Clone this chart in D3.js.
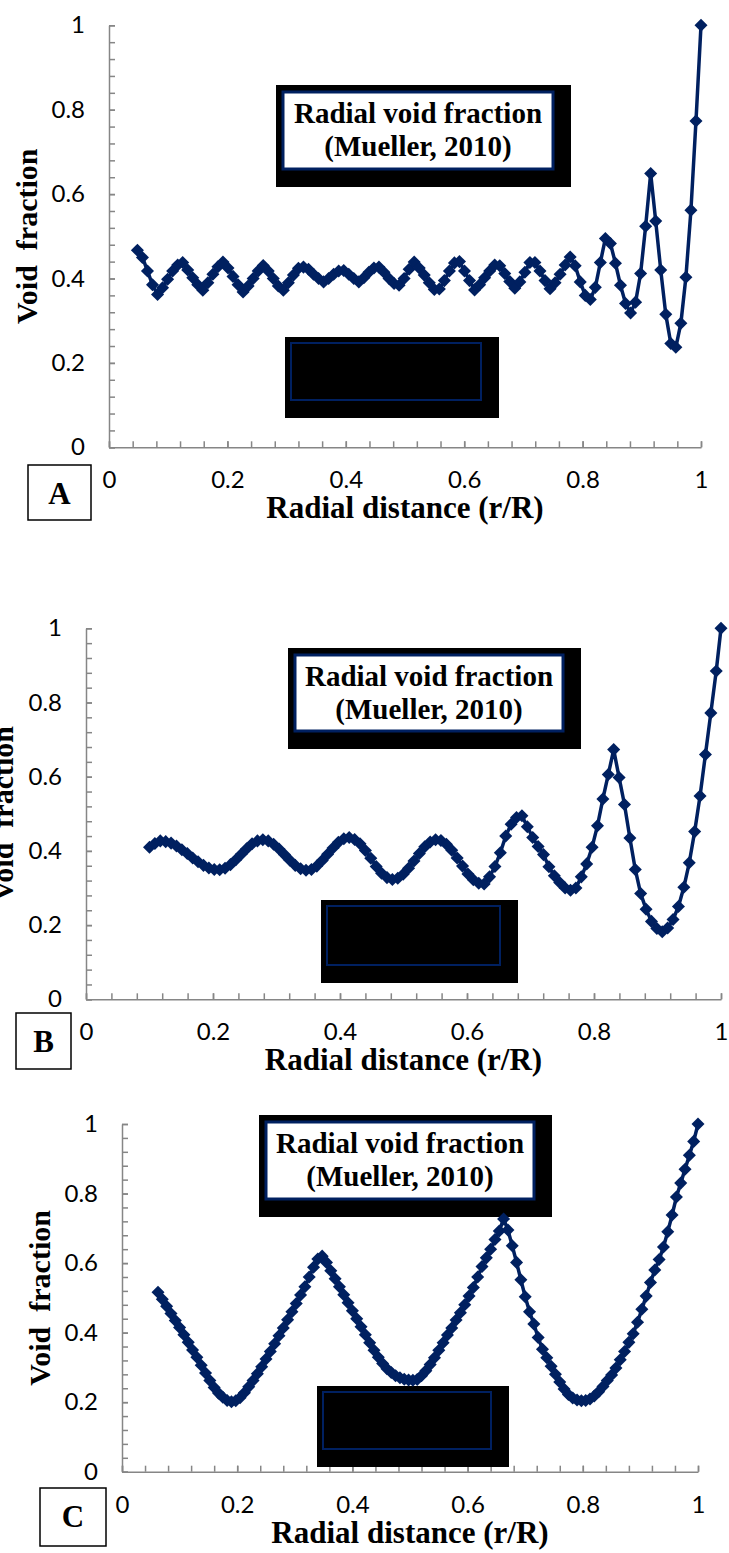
<!DOCTYPE html>
<html>
<head>
<meta charset="utf-8">
<script src="https://cdn.jsdelivr.net/npm/d3@7"></script>
<style>
  body { margin: 0; background: #fff; }
  svg { display: block; }
  .axis path, .axis line { stroke: #868686; stroke-width: 1.5; }
  .axis text { font-family: Lato, "Open Sans", sans-serif; font-size: 24px; fill: #000; }
  .serif { font-family: "Liberation Serif", "Times New Roman", serif; font-weight: bold; fill: #000; }
</style>
</head>
<body>
<svg width="729" height="1553"></svg>
<script>
// ---- data ----
var tickLabels = [0, 0.2, 0.4, 0.6, 0.8, 1];
var titleLines = ["Radial void fraction", "(Mueller, 2010)"];
var xTitle = "Radial distance (r/R)";
var yTitle = "Void  fraction";

// panel A
var xA = [0.048, 0.0565, 0.065, 0.0735, 0.082, 0.0905, 0.099, 0.1075, 0.116, 0.1245,
  0.133, 0.1415, 0.150, 0.1585, 0.167, 0.1755, 0.184, 0.1925, 0.201, 0.2095,
  0.218, 0.2265, 0.235, 0.2435, 0.252, 0.2605, 0.269, 0.2775, 0.286, 0.2945,
  0.303, 0.3115, 0.320, 0.3285, 0.337, 0.3455, 0.354, 0.3625, 0.371, 0.3795,
  0.388, 0.3965, 0.405, 0.4135, 0.422, 0.4305, 0.439, 0.4475, 0.456, 0.4645,
  0.473, 0.4815, 0.490, 0.4985, 0.507, 0.5155, 0.524, 0.5325, 0.541, 0.5495,
  0.558, 0.5665, 0.575, 0.5835, 0.592, 0.6005, 0.609, 0.6175, 0.626, 0.6345,
  0.643, 0.6515, 0.660, 0.6685, 0.677, 0.6855, 0.694, 0.7025, 0.711, 0.7195,
  0.728, 0.7365, 0.745, 0.7535, 0.762, 0.7705, 0.779, 0.7875, 0.796, 0.8045,
  0.813, 0.8215, 0.830, 0.8385, 0.847, 0.8555, 0.864, 0.8725, 0.881, 0.8895,
  0.898, 0.9065, 0.915, 0.9235, 0.932, 0.9405, 0.949, 0.9575, 0.966, 0.9745,
  0.983, 0.9915, 1.0];
var yA = [0.467, 0.450, 0.418, 0.385, 0.362, 0.378, 0.398, 0.418, 0.432, 0.438,
  0.420, 0.402, 0.385, 0.372, 0.390, 0.410, 0.428, 0.439, 0.425, 0.405,
  0.385, 0.368, 0.382, 0.400, 0.418, 0.431, 0.418, 0.400, 0.382, 0.372,
  0.390, 0.408, 0.424, 0.427, 0.422, 0.410, 0.400, 0.392, 0.400, 0.410,
  0.418, 0.419, 0.410, 0.400, 0.392, 0.402, 0.415, 0.425, 0.427, 0.415,
  0.400, 0.388, 0.384, 0.400, 0.422, 0.439, 0.425, 0.408, 0.390, 0.374,
  0.375, 0.395, 0.418, 0.437, 0.440, 0.418, 0.395, 0.373, 0.385, 0.402,
  0.418, 0.432, 0.430, 0.412, 0.393, 0.377, 0.392, 0.415, 0.438, 0.438,
  0.418, 0.395, 0.376, 0.390, 0.410, 0.432, 0.451, 0.430, 0.392, 0.360,
  0.350, 0.379, 0.438, 0.495, 0.483, 0.436, 0.384, 0.341, 0.318, 0.344,
  0.412, 0.524, 0.649, 0.536, 0.420, 0.315, 0.246, 0.237, 0.294, 0.403,
  0.562, 0.773, 1.0];

// panel B
var xB = [0.100, 0.1085, 0.117, 0.1255, 0.134, 0.1425, 0.151, 0.1595, 0.168, 0.1765,
  0.185, 0.1935, 0.202, 0.2105, 0.219, 0.2275, 0.236, 0.2445, 0.253, 0.2615,
  0.270, 0.2785, 0.287, 0.2955, 0.304, 0.3125, 0.321, 0.3295, 0.338, 0.3465,
  0.355, 0.3635, 0.372, 0.3805, 0.389, 0.3975, 0.406, 0.4145, 0.423, 0.4315,
  0.440, 0.4485, 0.457, 0.4655, 0.474, 0.4825, 0.491, 0.4995, 0.508, 0.5165,
  0.525, 0.5335, 0.542, 0.5505, 0.559, 0.5675, 0.576, 0.5845, 0.593, 0.6015,
  0.610, 0.6185, 0.627, 0.6355, 0.644, 0.6525, 0.661, 0.6695, 0.678, 0.6865,
  0.695, 0.7035, 0.712, 0.7205, 0.729, 0.7375, 0.746, 0.7545, 0.763, 0.7715,
  0.780, 0.7885, 0.797, 0.8055, 0.814, 0.8225, 0.831, 0.8395, 0.848, 0.8565,
  0.865, 0.8735, 0.882, 0.8905, 0.899, 0.9075, 0.916, 0.9245, 0.933, 0.9415,
  0.950, 0.9585, 0.967, 0.9755, 0.984, 0.9925, 1.0];
var yB = [0.410, 0.420, 0.427, 0.425, 0.421, 0.413, 0.403, 0.393, 0.381, 0.371,
  0.361, 0.354, 0.350, 0.349, 0.353, 0.363, 0.376, 0.391, 0.406, 0.419,
  0.427, 0.430, 0.427, 0.418, 0.405, 0.390, 0.375, 0.361, 0.352, 0.348,
  0.350, 0.359, 0.374, 0.391, 0.408, 0.423, 0.433, 0.436, 0.431, 0.419,
  0.401, 0.380, 0.358, 0.340, 0.328, 0.323, 0.326, 0.337, 0.353, 0.373,
  0.393, 0.411, 0.424, 0.430, 0.428, 0.418, 0.402, 0.381, 0.359, 0.338,
  0.322, 0.313, 0.311, 0.330, 0.358, 0.395, 0.440, 0.472, 0.490, 0.495,
  0.465, 0.436, 0.412, 0.390, 0.357, 0.333, 0.315, 0.300, 0.294, 0.300,
  0.330, 0.365, 0.410, 0.468, 0.540, 0.606, 0.673, 0.598, 0.525, 0.435,
  0.350, 0.285, 0.243, 0.210, 0.191, 0.182, 0.192, 0.215, 0.250, 0.302,
  0.368, 0.452, 0.548, 0.660, 0.772, 0.885, 1.0];

// panel C
var xC = [0.0625, 0.070, 0.0775, 0.085, 0.0925, 0.100, 0.1075, 0.115, 0.1225, 0.130,
  0.1375, 0.145, 0.1525, 0.160, 0.1675, 0.175, 0.1825, 0.190, 0.1975, 0.205,
  0.2125, 0.220, 0.2275, 0.235, 0.2425, 0.250, 0.2575, 0.265, 0.2725, 0.280,
  0.2875, 0.295, 0.3025, 0.310, 0.3175, 0.325, 0.3325, 0.340, 0.3475, 0.355,
  0.3625, 0.370, 0.3775, 0.385, 0.3925, 0.400, 0.4075, 0.415, 0.4225, 0.430,
  0.4375, 0.445, 0.4525, 0.460, 0.4675, 0.475, 0.4825, 0.490, 0.4975, 0.505,
  0.5125, 0.520, 0.5275, 0.535, 0.5425, 0.550, 0.5575, 0.565, 0.5725, 0.580,
  0.5875, 0.595, 0.6025, 0.610, 0.6175, 0.625, 0.6325, 0.640, 0.6475, 0.655,
  0.6625, 0.670, 0.6775, 0.685, 0.6925, 0.700, 0.7075, 0.715, 0.7225, 0.730,
  0.7375, 0.745, 0.7525, 0.760, 0.7675, 0.775, 0.7825, 0.790, 0.7975, 0.805,
  0.8125, 0.820, 0.8275, 0.835, 0.8425, 0.850, 0.8575, 0.865, 0.8725, 0.880,
  0.8875, 0.895, 0.9025, 0.910, 0.9175, 0.925, 0.9325, 0.940, 0.9475, 0.955,
  0.9625, 0.970, 0.9775, 0.985, 0.9925, 1.0];
var yC = [0.516, 0.496, 0.476, 0.455, 0.435, 0.415, 0.394, 0.372, 0.350, 0.329,
  0.306, 0.284, 0.262, 0.242, 0.226, 0.214, 0.205, 0.201, 0.204, 0.213,
  0.227, 0.244, 0.262, 0.282, 0.302, 0.324, 0.346, 0.368, 0.391, 0.413,
  0.437, 0.460, 0.484, 0.508, 0.532, 0.560, 0.588, 0.612, 0.620, 0.602,
  0.578, 0.555, 0.532, 0.509, 0.486, 0.463, 0.440, 0.417, 0.394, 0.371,
  0.349, 0.329, 0.311, 0.296, 0.285, 0.276, 0.270, 0.266, 0.264, 0.263,
  0.265, 0.276, 0.290, 0.308, 0.328, 0.349, 0.371, 0.393, 0.413, 0.436,
  0.457, 0.480, 0.505, 0.530, 0.560, 0.590, 0.615, 0.640, 0.668, 0.692,
  0.727, 0.695, 0.650, 0.602, 0.552, 0.503, 0.460, 0.425, 0.386, 0.352,
  0.328, 0.303, 0.280, 0.258, 0.238, 0.222, 0.212, 0.206, 0.204, 0.205,
  0.209, 0.218, 0.230, 0.245, 0.262, 0.278, 0.298, 0.322, 0.346, 0.372,
  0.397, 0.430, 0.467, 0.505, 0.544, 0.580, 0.610, 0.646, 0.690, 0.738,
  0.790, 0.830, 0.870, 0.910, 0.950, 1.0];

// ---- layout ----
var navy = "#002060";
var minorTicks = d3.range(26).map(function(i){ return i * 0.04; });

var panels = [
  { tag: "A", xs: xA, ys: yA, x0: 109, x1: 701, y0: 447.3, y1: 25.3, ytx: 37,
    title: [276, 85, 295, 102], note: [285, 337, 214, 81], box: [28, 465, 63, 55] },
  { tag: "B", xs: xB, ys: yB, x0: 86, x1: 721, y0: 999.3, y1: 628.3, ytx: 13,
    title: [288, 648, 293, 101], note: [321, 900, 197, 83], box: [16, 1013, 55, 56] },
  { tag: "C", xs: xC, ys: yC, x0: 122, x1: 698, y0: 1471.7, y1: 1124, ytx: 50,
    title: [259, 1115, 293, 102], note: [317, 1386, 192, 81], box: [40, 1488, 66, 58] }
];

var svg = d3.select("svg");

panels.forEach(function(p){ drawPanel(p); });

function drawPanel(p) {
  var g = svg.append("g");
  var sx = d3.scaleLinear().domain([0, 1]).range([p.x0, p.x1]);
  var sy = d3.scaleLinear().domain([0, 1]).range([p.y0, p.y1]);

  // minor ticks (inside)
  g.append("g").attr("class", "axis")
    .attr("transform", "translate(0," + p.y0 + ")")
    .call(d3.axisBottom(sx).tickValues(minorTicks).tickSize(-6).tickSizeOuter(0).tickFormat(""));
  g.append("g").attr("class", "axis")
    .attr("transform", "translate(" + p.x0 + ",0)")
    .call(d3.axisLeft(sy).tickValues(minorTicks).tickSize(-6).tickSizeOuter(0).tickFormat(""));

  // labelled ticks
  var ax = g.append("g").attr("class", "axis")
    .attr("transform", "translate(0," + p.y0 + ")")
    .call(d3.axisBottom(sx).tickValues(tickLabels).tickSize(-6).tickSizeOuter(0)
      .tickPadding(24).tickFormat(d3.format("")));
  ax.select(".domain").remove();
  var ay = g.append("g").attr("class", "axis")
    .attr("transform", "translate(" + p.x0 + ",0)")
    .call(d3.axisLeft(sy).tickValues(tickLabels).tickSize(-6).tickSizeOuter(0)
      .tickPadding(24).tickFormat(d3.format("")));
  ay.select(".domain").remove();

  // axis titles
  g.append("text").attr("class", "serif")
    .attr("x", (p.x0 + p.x1) / 2).attr("y", p.y0 + 71)
    .attr("text-anchor", "middle").style("font-size", "31px")
    .text(xTitle);
  g.append("text").attr("class", "serif")
    .attr("transform", "translate(" + p.ytx + "," + ((p.y0 + p.y1) / 2) + ") rotate(-90)")
    .attr("text-anchor", "middle").style("font-size", "30px").style("white-space", "pre")
    .text(yTitle);

  // title box
  var t = p.title;
  g.append("rect").attr("x", t[0]).attr("y", t[1]).attr("width", t[2]).attr("height", t[3]).attr("fill", "#000");
  g.append("rect").attr("x", t[0] + 7).attr("y", t[1] + 7).attr("width", t[2] - 25).attr("height", t[3] - 25)
    .attr("fill", "#fff").attr("stroke", navy).attr("stroke-width", 3);
  titleLines.forEach(function(s, i) {
    g.append("text").attr("class", "serif")
      .attr("x", t[0] + 7 + (t[2] - 25) / 2).attr("y", t[1] + 38 + i * 33)
      .attr("text-anchor", "middle").style("font-size", "29px")
      .text(s);
  });

  // empty legend box
  var n = p.note;
  g.append("rect").attr("x", n[0]).attr("y", n[1]).attr("width", n[2]).attr("height", n[3]).attr("fill", "#000");
  g.append("rect").attr("x", n[0] + 6).attr("y", n[1] + 6).attr("width", n[2] - 24).attr("height", n[3] - 24)
    .attr("fill", "#000").attr("stroke", navy).attr("stroke-width", 2);

  // panel tag
  var b = p.box;
  g.append("rect").attr("x", b[0]).attr("y", b[1]).attr("width", b[2]).attr("height", b[3])
    .attr("fill", "#fff").attr("stroke", "#000").attr("stroke-width", 1.5);
  g.append("text").attr("class", "serif")
    .attr("x", b[0] + b[2] / 2).attr("y", b[1] + 39)
    .attr("text-anchor", "middle").style("font-size", "31px")
    .text(p.tag);

  // series
  var pts = p.xs.map(function(x, i){ return [x, p.ys[i]]; });
  var line = d3.line().x(function(d){ return sx(d[0]); }).y(function(d){ return sy(d[1]); });
  g.append("path").datum(pts).attr("d", line)
    .attr("fill", "none").attr("stroke", navy).attr("stroke-width", 3.5).attr("stroke-linejoin", "round");
  g.selectAll(".mk").data(pts).enter().append("path").attr("class", "mk")
    .attr("d", d3.symbol().type(d3.symbolSquare).size(85))
    .attr("transform", function(d){ return "translate(" + sx(d[0]) + "," + sy(d[1]) + ") rotate(45)"; })
    .attr("fill", navy);
}
</script>
</body>
</html>
